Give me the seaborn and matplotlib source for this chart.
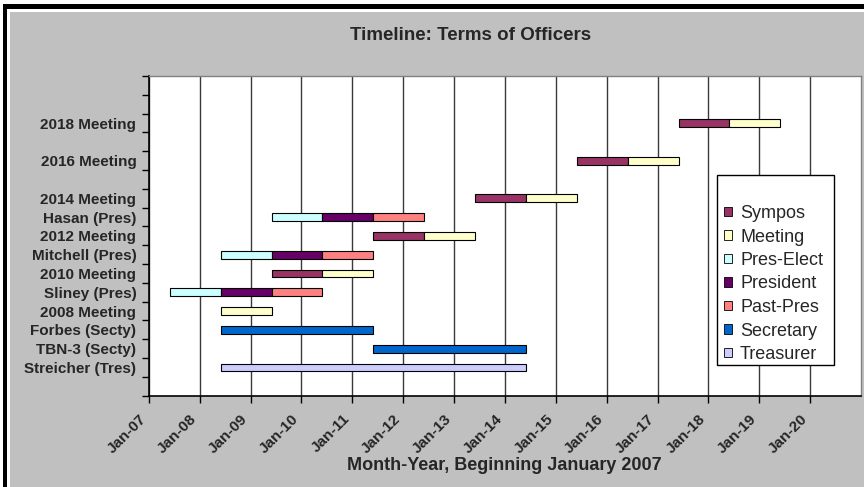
import matplotlib
matplotlib.use('Agg')
import numpy as np
import pandas as pd
import seaborn as sns
import matplotlib.pyplot as plt
import matplotlib.dates as mdates
import matplotlib.transforms as mtransforms
from matplotlib.patches import Rectangle, Patch

sns.set_style('white')
plt.rcParams['font.family'] = ['Liberation Sans', 'DejaVu Sans']

# y categories, bottom to top (blank rows are empty slots in the Excel chart)
row_labels = ['', 'Streicher (Tres)', 'TBN-3 (Secty)', 'Forbes (Secty)', '2008 Meeting',
              'Sliney (Pres)', '2010 Meeting', 'Mitchell (Pres)', '2012 Meeting',
              'Hasan (Pres)', '2014 Meeting', '', '2016 Meeting', '', '2018 Meeting', '', '']

roles = ['Sympos', 'Meeting', 'Pres-Elect', 'President', 'Past-Pres', 'Secretary', 'Treasurer']
role_colors = ['#993366', '#FFFFCC', '#CCFFFF', '#660066', '#FF8080', '#0066CC', '#CCCCFF']

bar_names = ['Streicher (Tres)', 'TBN-3 (Secty)', 'Forbes (Secty)', '2008 Meeting',
             'Sliney (Pres)', 'Sliney (Pres)', 'Sliney (Pres)',
             '2010 Meeting', '2010 Meeting',
             'Mitchell (Pres)', 'Mitchell (Pres)', 'Mitchell (Pres)',
             '2012 Meeting', '2012 Meeting',
             'Hasan (Pres)', 'Hasan (Pres)', 'Hasan (Pres)',
             '2014 Meeting', '2014 Meeting', '2016 Meeting', '2016 Meeting',
             '2018 Meeting', '2018 Meeting']
bar_roles = ['Treasurer', 'Secretary', 'Secretary', 'Meeting',
             'Pres-Elect', 'President', 'Past-Pres',
             'Sympos', 'Meeting',
             'Pres-Elect', 'President', 'Past-Pres',
             'Sympos', 'Meeting',
             'Pres-Elect', 'President', 'Past-Pres',
             'Sympos', 'Meeting', 'Sympos', 'Meeting', 'Sympos', 'Meeting']
bar_starts = ['2008-06-01', '2011-06-01', '2008-06-01', '2008-06-01',
              '2007-06-01', '2008-06-01', '2009-06-01',
              '2009-06-01', '2010-06-01',
              '2008-06-01', '2009-06-01', '2010-06-01',
              '2011-06-01', '2012-06-01',
              '2009-06-01', '2010-06-01', '2011-06-01',
              '2013-06-01', '2014-06-01', '2015-06-01', '2016-06-01',
              '2017-06-01', '2018-06-01']
bar_ends = ['2014-06-01', '2014-06-01', '2011-06-01', '2009-06-01',
            '2008-06-01', '2009-06-01', '2010-06-01',
            '2010-06-01', '2011-06-01',
            '2009-06-01', '2010-06-01', '2011-06-01',
            '2012-06-01', '2013-06-01',
            '2010-06-01', '2011-06-01', '2012-06-01',
            '2014-06-01', '2015-06-01', '2016-06-01', '2017-06-01',
            '2018-06-01', '2019-06-01']

tick_years = list(range(2007, 2021))
axis_start = '2007-01-01'
axis_end = '2021-01-01'

df = pd.DataFrame({'name': bar_names, 'role': bar_roles,
                   'start': pd.to_datetime(bar_starts), 'end': pd.to_datetime(bar_ends)})
df['y'] = df['name'].map(row_labels.index) + 0.5
df['left'] = mdates.date2num(df['start'])
df['width'] = mdates.date2num(df['end']) - df['left']

palette = dict(zip(roles, sns.color_palette(role_colors)))

W, H = 864, 487
fig = plt.figure(figsize=(W / 100, H / 100), dpi=100)
fig.patch.set_facecolor('white')

# chart area background and the black frame
fig.patches.append(Rectangle((10 / W, 0), 1, (H - 12) / H, transform=fig.transFigure,
                             facecolor='#C0C0C0', edgecolor='none', zorder=-2))
fig.patches.append(Rectangle((3 / W, 1 - 9 / H), 1, 5 / H, transform=fig.transFigure,
                             facecolor='black', edgecolor='none', zorder=-1))
fig.patches.append(Rectangle((3 / W, 0), 4 / W, 1 - 4 / H, transform=fig.transFigure,
                             facecolor='black', edgecolor='none', zorder=-1))

ax = fig.add_axes([148.8 / W, (H - 395.7) / H, (861 - 148.8) / W, (395.7 - 76) / H])
ax.set_facecolor('white')

for role in roles:
    sub = df[df['role'] == role]
    ax.barh(sub['y'], sub['width'], left=sub['left'], height=0.42,
            color=palette[role], edgecolor='black', linewidth=0.8, zorder=3)

# y axis: ticks at category boundaries, labels at centres
ax.set_ylim(0, len(row_labels))
ax.set_yticks(np.arange(len(row_labels) + 1))
ax.set_yticks(np.arange(len(row_labels)) + 0.5, minor=True)
ax.set_yticklabels(row_labels, minor=True, fontsize=11, fontweight='bold')
ax.tick_params(axis='y', which='major', left=True, length=5, width=1, color='black',
               direction='out', labelleft=False)
ax.tick_params(axis='y', which='minor', left=True, length=0, pad=9)

# x axis: dates
ax.set_xlim(mdates.date2num(pd.Timestamp(axis_start)), mdates.date2num(pd.Timestamp(axis_end)))
ax.set_xticks(mdates.date2num([pd.Timestamp(f'{y}-01-01') for y in tick_years]))
ax.xaxis.set_major_formatter(mdates.DateFormatter('%b-%y'))
ax.tick_params(axis='x', which='major', bottom=True, length=5, width=1, color='black',
               direction='out', pad=10)
shift = mtransforms.ScaledTranslation(-5 / 100, 0, fig.dpi_scale_trans)
for lab in ax.get_xticklabels():
    lab.set_rotation(45)
    lab.set_ha('right')
    lab.set_va('center')
    lab.set_rotation_mode('anchor')
    lab.set_fontsize(11)
    lab.set_fontweight('bold')
    lab.set_transform(lab.get_transform() + shift)

ax.grid(axis='x', color='#3a3a3a', linewidth=1, zorder=1)
ax.grid(axis='y', visible=False)
ax.set_axisbelow(True)

for s in ['left', 'bottom']:
    ax.spines[s].set_color('black')
    ax.spines[s].set_linewidth(1.2)
for s in ['top', 'right']:
    ax.spines[s].set_color('#808080')
    ax.spines[s].set_linewidth(1)

fig.text(471 / W, 1 - 36 / H, 'Timeline: Terms of Officers', ha='center', va='center',
         fontsize=13.5, fontweight='bold')
fig.text(504 / W, 1 - 466 / H, 'Month-Year, Beginning January 2007', ha='center', va='center',
         fontsize=13, fontweight='bold')

# legend with Excel-like box
fig.patches.append(Rectangle((716.7 / W, 1 - 365 / H), 117.3 / W, 190 / H, transform=fig.transFigure,
                             facecolor='white', edgecolor='black', linewidth=1, zorder=2))
handles = [Patch(facecolor=palette[r], edgecolor='black', linewidth=0.6) for r in roles]
fig.legend(handles, roles, loc='upper left', bbox_to_anchor=(724 / W, 1 - 205 / H),
           bbox_transform=fig.transFigure, frameon=False, fontsize=13,
           handlelength=0.44, handleheight=0.44, handletextpad=0.45, labelspacing=0.36,
           borderpad=0, borderaxespad=0)

fig.savefig('out.png', dpi=100)
